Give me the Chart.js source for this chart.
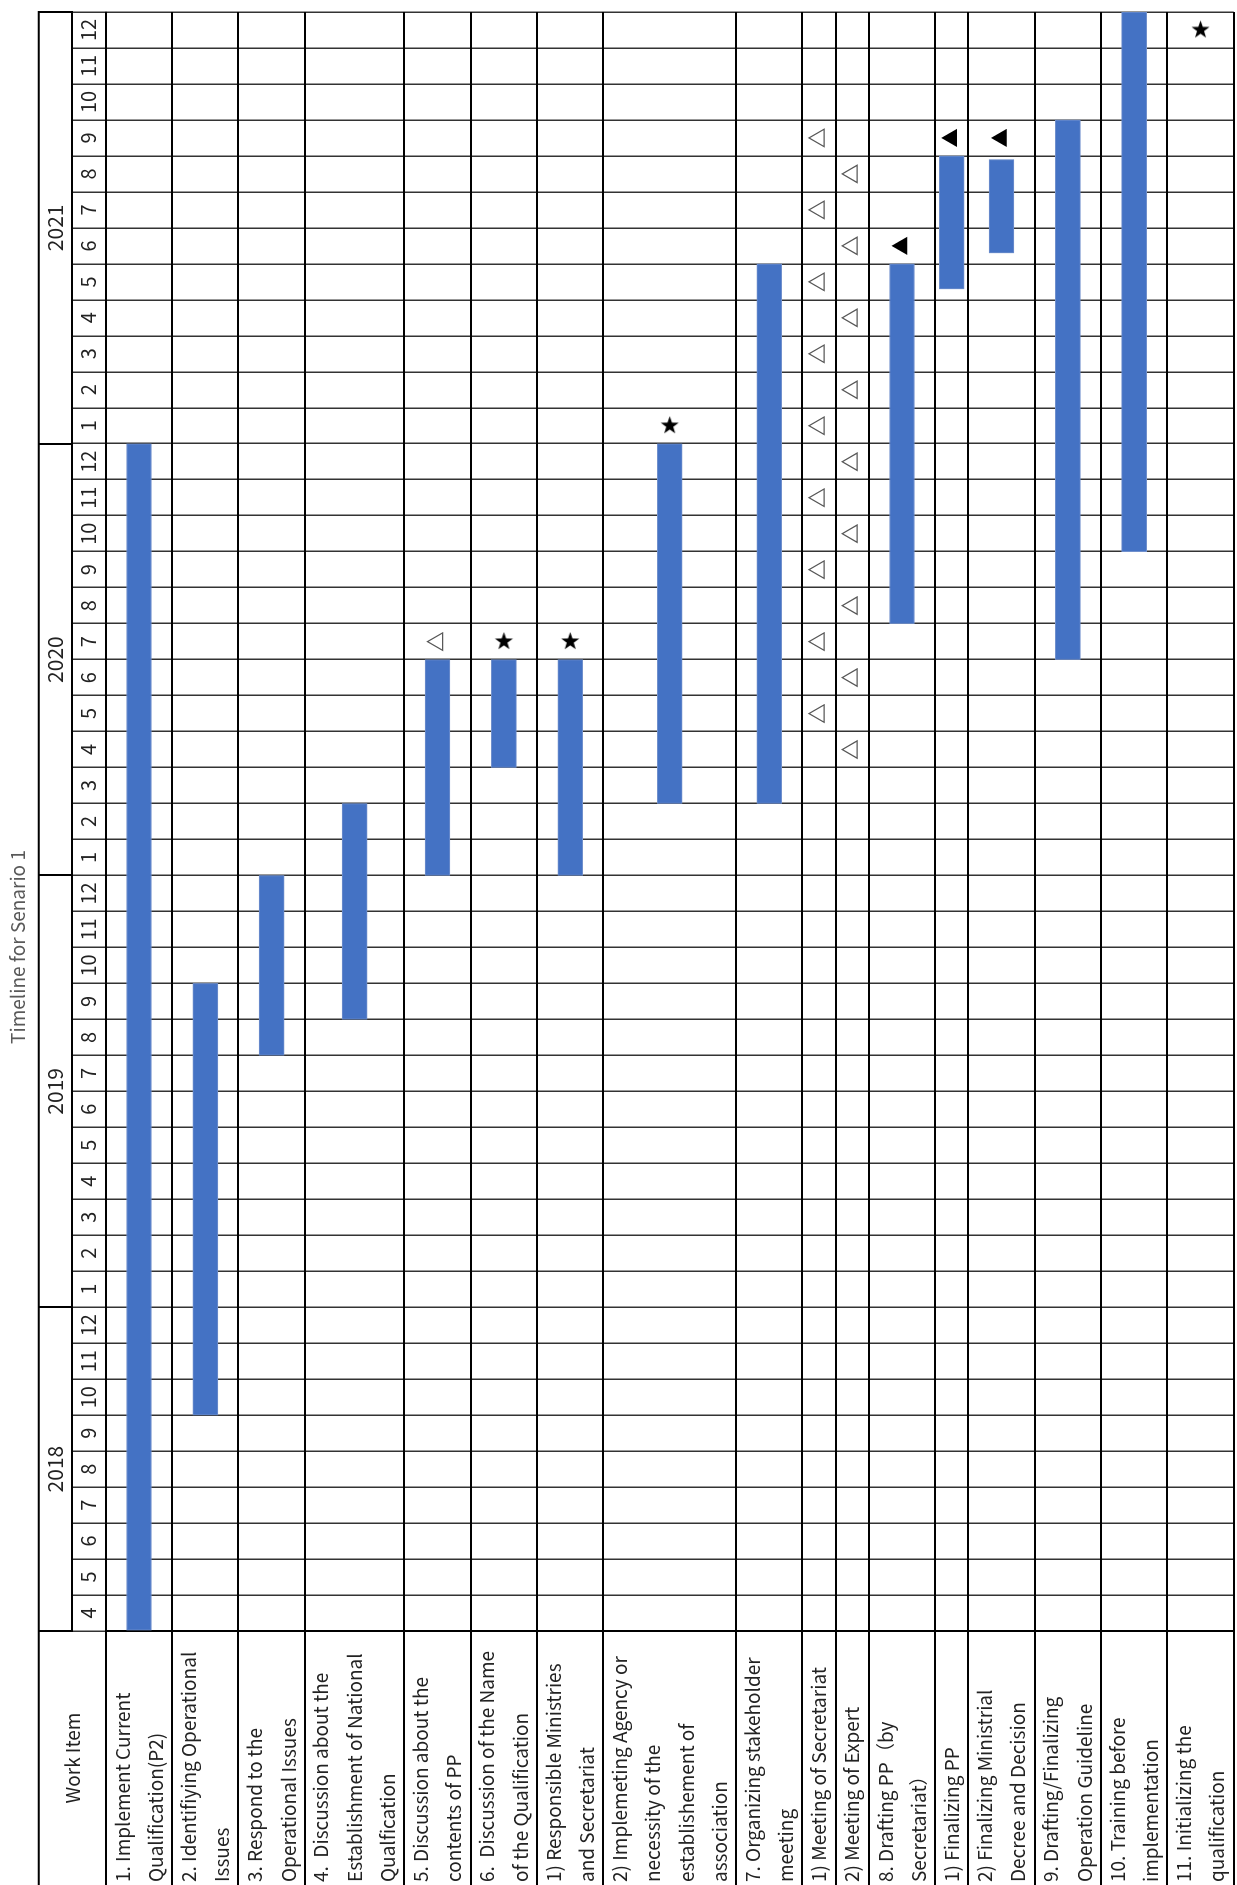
<!DOCTYPE html>
<html>
<head>
<meta charset="utf-8">
<title>Timeline for Senario 1</title>
<script src="https://cdn.jsdelivr.net/npm/chart.js@4.4.0/dist/chart.umd.min.js"></script>
<style>
  html, body { margin: 0; padding: 0; width: 1237px; height: 1885px; overflow: hidden; background: #fff; }
  /* the sheet is laid out landscape and turned a quarter to the left */
  #wrap { position: absolute; left: 0; top: 0; width: 1885px; height: 1245px;
          transform-origin: 0 0; transform: translate(0px, 1885px) rotate(-90deg); }
</style>
</head>
<body>
<div id="wrap"><canvas id="gantt" width="1885" height="1245"></canvas></div>
<script>
// WORK ITEMS (one entry per wrapped line, as in the sheet)
const itemLabels = [
  ['1. Implement Current', 'Qualification(P2)'],
  ['2. Identifiying Operational', 'Issues'],
  ['3. Respond to the', 'Operational Issues'],
  ['4.  Discussion about the', 'Establishment of National', 'Qualfication'],
  ['5. Discussion about the', 'contents of PP'],
  ['6.  Discussion of the Name', 'of the Qualification'],
  ['1) Responsible Ministries', 'and Secretariat'],
  ['2) Implemeting Agency or', 'necessity of the', 'establishement of', 'association'],
  ['7. Organizing stakeholder', 'meeting'],
  ['1) Meeting of Secretariat'],
  ['2) Meeting of Expert'],
  ['8. Drafting PP（by', 'Secretariat）'],
  ['1) Finalizing PP'],
  ['2) Finalizing Ministrial', 'Decree and Decision'],
  ['9. Drafting/Finalizing', 'Operation Guideline'],
  ['10. Training before', 'implementation'],
  ['11. Initializing the', 'qualification']
];

// BAR SPANS, in months counted from the start of Apr 2018 (null = no bar)
const barStart = [0, 6, 16, 17, 21, 24, 21, 23, 23, null, null, 28, 37.3, 38.3, 27, 30, null];
const barEnd   = [33, 18, 21, 23, 27, 27, 27, 33, 38, null, null, 38, 41, 40.9, 42, 45, null];

// MARKERS (item index + month)
const openTriItems  = [4, 9, 9, 9, 9, 9, 9, 9, 9, 9, 10, 10, 10, 10, 10, 10, 10, 10, 10];
const openTriMonths = ['2020-07',
  '2020-05', '2020-07', '2020-09', '2020-11', '2021-01', '2021-03', '2021-05', '2021-07', '2021-09',
  '2020-04', '2020-06', '2020-08', '2020-10', '2020-12', '2021-02', '2021-04', '2021-06', '2021-08'];
const solidTriItems  = [11, 12, 13];
const solidTriMonths = ['2021-06', '2021-09', '2021-09'];
const starItems  = [5, 6, 7, 16];
const starMonths = ['2020-07', '2020-07', '2021-01', '2021-12'];

// TIME HEADER
const years = ['2018', '2019', '2020', '2021'];
const yearMonthCounts = [9, 12, 12, 12];
const monthLabels = ['4', '5', '6', '7', '8', '9', '10', '11', '12',
  '1', '2', '3', '4', '5', '6', '7', '8', '9', '10', '11', '12',
  '1', '2', '3', '4', '5', '6', '7', '8', '9', '10', '11', '12',
  '1', '2', '3', '4', '5', '6', '7', '8', '9', '10', '11', '12'];

const titleText = 'Timeline for Senario 1';
const headerText = 'Work Item';
const FONT = '"Noto Sans CJK JP", "Noto Sans", sans-serif';

// month 'YYYY-MM' -> centre of its column on the month scale
function monthPos(s) {
  let p = s.split('-');
  return (Number(p[0]) - Number(years[0])) * 12 + Number(p[1]) - Number(monthLabels[0]) + 0.5;
};

// item rows: start line and centre line
let itemStart = [];
let totalLines = 0;
itemLabels.forEach(l => { itemStart.push(totalLines); totalLines += l.length; });
let itemCenter = itemLabels.map((l, i) => itemStart[i] + l.length / 2);

// ticks: edges carry the rules, centres carry the text
let yTickValues = [], yTickText = [], yTickEdge = [];
itemLabels.forEach((l, i) => {
  yTickValues.push(itemStart[i]); yTickText.push(''); yTickEdge.push(true);
  yTickValues.push(itemCenter[i]); yTickText.push(l); yTickEdge.push(false);
});
yTickValues.push(totalLines); yTickText.push(''); yTickEdge.push(true);

let mTickValues = [], mTickText = [], mTickEdge = [];
monthLabels.forEach((m, i) => {
  mTickValues.push(i); mTickText.push(''); mTickEdge.push(true);
  mTickValues.push(i + 0.5); mTickText.push(m); mTickEdge.push(false);
});
mTickValues.push(monthLabels.length); mTickText.push(''); mTickEdge.push(true);

let yrTickValues = [], yrTickText = [], yrTickEdge = [];
let m0 = 0;
years.forEach((yr, i) => {
  yrTickValues.push(m0); yrTickText.push(''); yrTickEdge.push(true);
  yrTickValues.push(m0 + yearMonthCounts[i] / 2); yrTickText.push(yr); yrTickEdge.push(false);
  m0 += yearMonthCounts[i];
});
yrTickValues.push(m0); yrTickText.push(''); yrTickEdge.push(true);

// dataset points
let barData = [];
barStart.forEach((s, i) => {
  if (s !== null) barData.push({ x: [s, barEnd[i]], y: itemCenter[i] });
});
let openTriData = openTriItems.map((it, i) => ({ x: monthPos(openTriMonths[i]), y: itemCenter[it] }));
let solidTriData = solidTriItems.map((it, i) => ({ x: monthPos(solidTriMonths[i]), y: itemCenter[it] }));
let starData = starItems.map((it, i) => ({ x: monthPos(starMonths[i]), y: itemCenter[it] }));

// filled five point star, drawn pointing along +x (upright once the sheet is turned)
function makeStar(r) {
  let c = document.createElement('canvas');
  let s = Math.ceil(r * 2 + 2);
  c.width = s; c.height = s;
  let g = c.getContext('2d');
  g.translate(s / 2, s / 2);
  g.beginPath();
  for (let k = 0; k < 10; k++) {
    let rr = (k % 2) ? r * 0.4 : r;
    let a = k * Math.PI / 5;
    g.lineTo(rr * Math.cos(a), rr * Math.sin(a));
  }
  g.closePath();
  g.fillStyle = '#000';
  g.fill();
  return c;
};

// empty edge ticks must not take any room
function tickFont(edges, size, lh) {
  return c => edges[c.index]
    ? { family: FONT, size: size, lineHeight: 0 }
    : { family: FONT, size: size, lineHeight: lh };
};
function noPad(s) {
  s.paddingTop = 0; s.paddingBottom = 0; s.paddingLeft = 0; s.paddingRight = 0;
};

// header cell over the label column + top rule of the table
const headerCell = {
  id: 'headerCell',
  afterDraw(chart) {
    let ctx = chart.ctx;
    let x = chart.scales.x, x2 = chart.scales.x2, y = chart.scales.y;
    ctx.save();
    ctx.strokeStyle = '#000';
    ctx.lineWidth = 2;
    ctx.beginPath();
    ctx.moveTo(0, x2.top);
    ctx.lineTo(x.right + 1, x2.top);
    ctx.stroke();
    ctx.font = '19px ' + FONT;
    ctx.fillStyle = '#222';
    ctx.textAlign = 'center';
    ctx.textBaseline = 'middle';
    ctx.fillText(headerText, y.right / 2, (x2.top + x.bottom) / 2);
    ctx.restore();
  }
};

Chart.defaults.font.family = FONT;
Chart.defaults.color = '#222';

let ctx = document.getElementById('gantt').getContext('2d');
let myChart = new Chart(ctx, {
  type: 'bar',
  data: {
    datasets: [
      {
        type: 'bar',
        indexAxis: 'y',
        data: barData,
        xAxisID: 'x',
        yAxisID: 'y',
        backgroundColor: '#4472C4',
        borderColor: '#6f8fcc',
        borderWidth: 1,
        borderSkipped: false,
        barThickness: 25
      },
      {
        type: 'scatter',
        data: openTriData,
        xAxisID: 'x',
        yAxisID: 'y',
        pointStyle: 'triangle',
        pointRadius: 10,
        pointBackgroundColor: '#fff',
        pointBorderColor: '#595959',
        pointBorderWidth: 1.3
      },
      {
        type: 'scatter',
        data: solidTriData,
        xAxisID: 'x',
        yAxisID: 'y',
        pointStyle: 'triangle',
        pointRadius: 10.5,
        pointBackgroundColor: '#000',
        pointBorderColor: '#000',
        pointBorderWidth: 0
      },
      {
        type: 'scatter',
        data: starData,
        xAxisID: 'x',
        yAxisID: 'y',
        pointStyle: makeStar(9.5),
        pointRadius: 9
      }
    ]
  },
  options: {
    responsive: false,
    animation: false,
    events: [],
    layout: { padding: { left: 3, right: 12, top: 0, bottom: 5 } },
    plugins: {
      legend: { display: false },
      tooltip: { enabled: false },
      title: {
        display: true,
        text: titleText,
        color: '#595959',
        font: { size: 19, weight: 'normal' },
        padding: { top: 6, bottom: 10 }
      }
    },
    scales: {
      x: {
        type: 'linear',
        position: 'top',
        offset: false,
        weight: 0,
        min: 0,
        max: monthLabels.length,
        afterBuildTicks: s => { s.ticks = mTickValues.map(v => ({ value: v })); },
        afterFit: s => { s.height = 34; noPad(s); },
        ticks: {
          autoSkip: false, maxRotation: 0, minRotation: 0,
          padding: -28.5,
          font: tickFont(mTickEdge, 20, 1.2),
          callback: (v, i) => mTickText[i]
        },
        grid: {
          offset: false,
          color: '#333',
          lineWidth: c => mTickEdge[c.index] ? 1.5 : 0,
          tickLength: 34
        },
        border: { display: true, color: '#000', width: 2 }
      },
      x2: {
        type: 'linear',
        axis: 'x',
        position: 'top',
        offset: false,
        weight: 1,
        min: 0,
        max: monthLabels.length,
        afterBuildTicks: s => { s.ticks = yrTickValues.map(v => ({ value: v })); },
        afterFit: s => { s.height = 33; noPad(s); },
        ticks: {
          autoSkip: false, maxRotation: 0, minRotation: 0,
          padding: -29,
          font: tickFont(yrTickEdge, 21, 1.2),
          callback: (v, i) => yrTickText[i]
        },
        grid: {
          offset: false,
          drawOnChartArea: false,
          color: '#000',
          lineWidth: c => yrTickEdge[c.index] ? 2 : 0,
          tickLength: 33
        },
        border: { display: true, color: '#000', width: 2 }
      },
      y: {
        type: 'linear',
        position: 'left',
        offset: false,
        reverse: true,
        min: 0,
        max: totalLines,
        afterBuildTicks: s => { s.ticks = yTickValues.map(v => ({ value: v })); },
        afterFit: s => { s.width = 251; noPad(s); },
        ticks: {
          autoSkip: false,
          crossAlign: 'far',
          padding: 0,
          font: tickFont(yTickEdge, 19, '33.35px'),
          callback: (v, i) => yTickText[i]
        },
        grid: {
          offset: false,
          color: '#000',
          lineWidth: c => yTickEdge[c.index] ? 2 : 0,
          tickLength: 260
        },
        border: { display: true, color: '#000', width: 2 }
      }
    }
  },
  plugins: [headerCell]
});
</script>
</body>
</html>
